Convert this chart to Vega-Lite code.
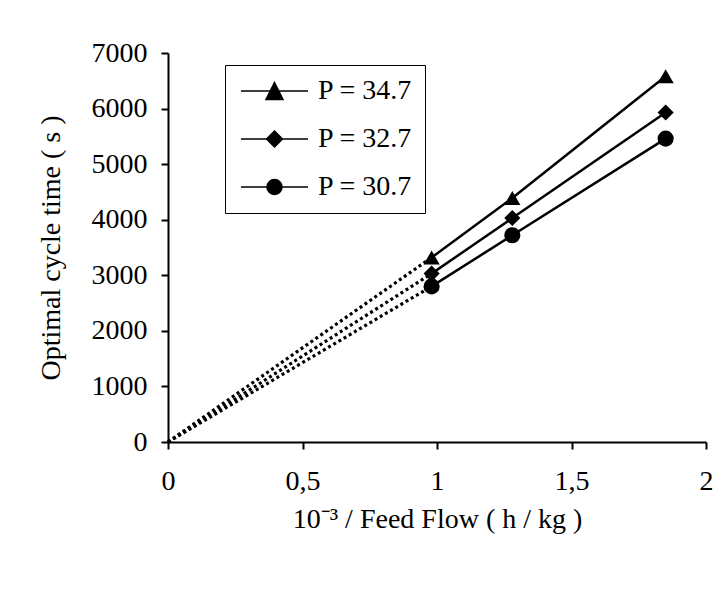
{
  "$schema": "https://vega.github.io/schema/vega-lite/v6.json",
  "width": 538,
  "height": 389,
  "autosize": "none",
  "padding": {"left": 168, "top": 53, "right": 7, "bottom": 150},
  "background": "white",
  "datasets": {
    "d": [
      {"P": "P = 34.7", "x": 0, "t": 0},
      {"P": "P = 34.7", "x": 0.98, "t": 3320},
      {"P": "P = 34.7", "x": 1.28, "t": 4390},
      {"P": "P = 34.7", "x": 1.85, "t": 6580},
      {"P": "P = 32.7", "x": 0, "t": 0},
      {"P": "P = 32.7", "x": 0.98, "t": 3030},
      {"P": "P = 32.7", "x": 1.28, "t": 4030},
      {"P": "P = 32.7", "x": 1.85, "t": 5930},
      {"P": "P = 30.7", "x": 0, "t": 0},
      {"P": "P = 30.7", "x": 0.98, "t": 2800},
      {"P": "P = 30.7", "x": 1.28, "t": 3720},
      {"P": "P = 30.7", "x": 1.85, "t": 5460}
    ]
  },
  "encoding": {
    "x": {
      "field": "x", "type": "quantitative",
      "scale": {"domain": [0, 2], "nice": false},
      "axis": {
        "values": [0, 0.5, 1, 1.5, 2],
        "labelExpr": "replace(toString(datum.value), '.', ',')",
        "labelPadding": 18,
        "title": "10⁻³ / Feed Flow ( h / kg )",
        "titlePadding": 10
      }
    },
    "y": {
      "field": "t", "type": "quantitative",
      "scale": {"domain": [0, 7000], "nice": false},
      "axis": {
        "values": [0, 1000, 2000, 3000, 4000, 5000, 6000, 7000],
        "format": "d",
        "labelPadding": 14,
        "title": "Optimal cycle time ( s )",
        "titlePadding": 26
      }
    }
  },
  "layer": [
    {
      "data": {"name": "d"},
      "transform": [{"filter": "datum.x <= 0.99"}],
      "mark": {"type": "line", "color": "black", "strokeWidth": 3.2, "strokeDash": [3, 3]},
      "encoding": {"detail": {"field": "P", "type": "nominal"}}
    },
    {
      "data": {"name": "d"},
      "transform": [{"filter": "datum.x > 0"}],
      "mark": {"type": "line", "color": "black", "strokeWidth": 2.5},
      "encoding": {"detail": {"field": "P", "type": "nominal"}}
    },
    {
      "data": {"name": "d"},
      "transform": [{"filter": "datum.x > 0"}],
      "mark": {"type": "point", "filled": true, "color": "black", "opacity": 1, "size": 260},
      "encoding": {
        "shape": {
          "field": "P", "type": "nominal",
          "scale": {"domain": ["P = 34.7", "P = 32.7", "P = 30.7"], "range": ["triangle-up", "diamond", "circle"]},
          "legend": null
        }
      }
    },
    {
      "data": {"values": []},
      "mark": {"type": "point", "filled": true, "color": "black", "stroke": "black", "strokeWidth": 2, "opacity": 1, "size": 400},
      "encoding": {
        "shape": {
          "field": "P", "type": "nominal",
          "scale": {
            "domain": ["P = 34.7", "P = 32.7", "P = 30.7"],
            "range": [
              "M-1,0H5.7M2.35,-0.85L3.2,0.85L1.5,0.85Z",
              "M-1,0H5.7M2.35,-0.8L3.15,0L2.35,0.8L1.55,0Z",
              "M-1,0H5.7M1.6,0A0.75,0.75,0,1,0,3.1,0A0.75,0.75,0,1,0,1.6,0Z"
            ]
          },
          "legend": {
            "title": null,
            "orient": "none",
            "legendX": 57,
            "legendY": 12,
            "symbolSize": 400,
            "labelOffset": 53,
            "labelFont": "Liberation Serif",
            "labelFontSize": 28,
            "labelColor": "black",
            "labelLimit": 0,
            "padding": 12,
            "rowPadding": 20,
            "strokeColor": "black",
            "fillColor": "white",
            "encode": {
              "legend": {"update": {"strokeWidth": {"value": 2}}},
              "symbols": {"update": {"stroke": {"value": "black"}, "strokeWidth": {"value": 2}, "fill": {"value": "black"}, "opacity": {"value": 1}}}
            }
          }
        }
      }
    }
  ],
  "resolve": {"scale": {"shape": "independent"}},
  "config": {
    "view": {"stroke": null},
    "axis": {
      "grid": false,
      "domainColor": "black",
      "domainWidth": 2,
      "tickColor": "black",
      "tickWidth": 2,
      "tickSize": 7,
      "labelFont": "Liberation Serif",
      "labelFontSize": 28,
      "labelColor": "black",
      "labelFlush": false,
      "labelOverlap": false,
      "titleFont": "Liberation Serif",
      "titleFontSize": 28,
      "titleFontWeight": "normal",
      "titleColor": "black"
    }
  }
}
